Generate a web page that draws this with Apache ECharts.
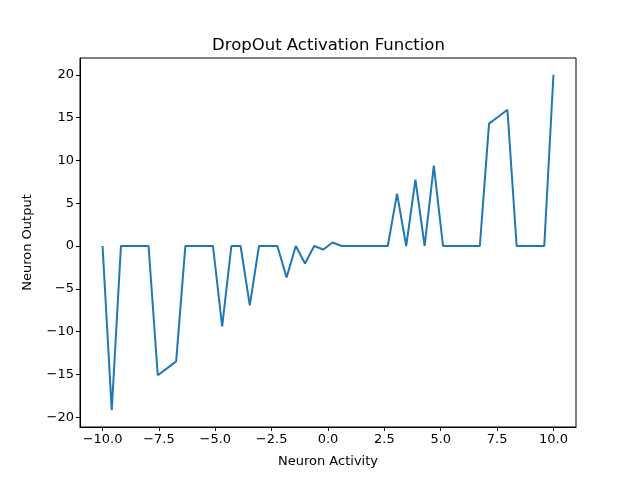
<!DOCTYPE html>
<html>
<head>
<meta charset="utf-8">
<script src="https://cdn.jsdelivr.net/npm/echarts@6/dist/echarts.min.js"></script>
<style>html,body{margin:0;padding:0;background:#fff}#c{width:640px;height:480px}</style>
</head>
<body>
<div id="c"></div>
<script>
const xValues = [-10.0, -9.592, -9.184, -8.776, -8.367, -7.959, -7.551, -7.143, -6.735, -6.327,
  -5.918, -5.510, -5.102, -4.694, -4.286, -3.878, -3.469, -3.061, -2.653, -2.245,
  -1.837, -1.429, -1.020, -0.612, -0.204, 0.204, 0.612, 1.020, 1.429, 1.837,
  2.245, 2.653, 3.061, 3.469, 3.878, 4.286, 4.694, 5.102, 5.510, 5.918,
  6.327, 6.735, 7.143, 7.551, 7.959, 8.367, 8.776, 9.184, 9.592, 10.0];
const yValues = [0, -19.18, 0, 0, 0, 0, -15.10, -14.29, -13.47, 0,
  0, 0, 0, -9.39, 0, 0, -6.94, 0, 0, 0,
  -3.67, 0, -2.04, 0, -0.41, 0.41, 0, 0, 0, 0,
  0, 0, 6.12, 0, 7.76, 0, 9.39, 0, 0, 0,
  0, 0, 14.29, 15.10, 15.92, 0, 0, 0, 0, 20.0];
const xTicks = [-10, -7.5, -5, -2.5, 0, 2.5, 5, 7.5, 10];
const yTicks = [-20, -15, -10, -5, 0, 5, 10, 15, 20];
const titleText = 'DropOut Activation Function';
const xName = 'Neuron Activity';
const yName = 'Neuron Output';

const font = 'DejaVu Sans';
const chart = echarts.init(document.getElementById('c'), null, {renderer: 'canvas'});
const fmt = v => (Number.isInteger(v) ? v.toFixed(1) : String(v)).replace('-', '\u2212');
chart.setOption({
  animation: false,
  backgroundColor: '#fff',
  title: {
    text: titleText, left: 207, top: 32,
    textStyle: {fontFamily: font, fontSize: 16.5, fontWeight: 'normal', color: '#000'}
  },
  grid: {left: 80, right: 64, top: 58, bottom: 53, show: true, borderColor: '#000', borderWidth: 1, backgroundColor: 'transparent'},
  xAxis: {
    type: 'value', min: -11, max: 11,
    name: xName, nameLocation: 'middle', nameGap: 28,
    nameTextStyle: {fontFamily: font, fontSize: 13, color: '#000'},
    axisLine: {show: true, onZero: false, lineStyle: {color: '#000', width: 1}},
    axisTick: {show: true, inside: false, length: 4, customValues: xTicks, lineStyle: {color: '#000'}},
    axisLabel: {customValues: xTicks, formatter: fmt, fontFamily: font, fontSize: 13, color: '#000', margin: 6},
    splitLine: {show: false}
  },
  yAxis: {
    type: 'value', min: -21.14, max: 21.96,
    name: yName, nameLocation: 'middle', nameGap: 46,
    nameTextStyle: {fontFamily: font, fontSize: 13, color: '#000'},
    axisLine: {show: true, onZero: false, lineStyle: {color: '#000', width: 1}},
    axisTick: {show: true, inside: false, length: 4, customValues: yTicks, lineStyle: {color: '#000'}},
    axisLabel: {customValues: yTicks, formatter: v => String(v).replace('-', '\u2212'), fontFamily: font, fontSize: 13, color: '#000', margin: 6},
    splitLine: {show: false}
  },
  series: [{
    type: 'line',
    data: xValues.map((x, i) => [x, yValues[i]]),
    showSymbol: false,
    lineStyle: {color: '#1f77b4', width: 2},
    itemStyle: {color: '#1f77b4'}
  }]
});
</script>
</body>
</html>
